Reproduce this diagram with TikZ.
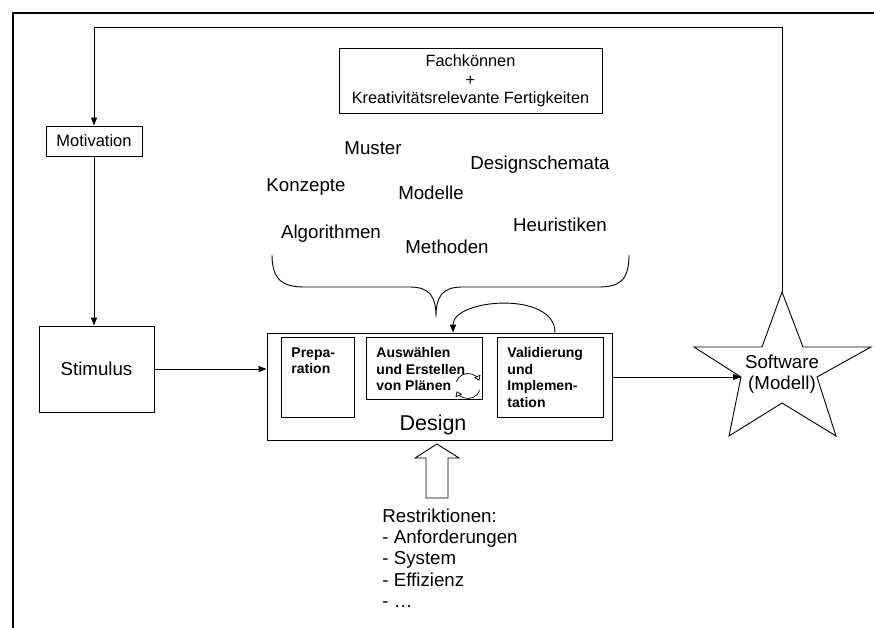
\documentclass[tikz,border=0pt]{standalone}
\usepackage{fontspec}
\setmainfont{Liberation Sans}
\usetikzlibrary{arrows.meta}
\begin{document}
\begin{tikzpicture}[x=1pt,y=-1pt,line width=0.9pt,
  box/.style={draw,rectangle,inner sep=0pt},
  word/.style={inner sep=0pt,anchor=base,font=\fontsize{18.7}{21.3}\selectfont},
  phase/.style={inner sep=0pt,anchor=north west,align=left,font=\fontsize{14}{16.7}\selectfont\bfseries},
  ptr/.style={-{Triangle[length=8pt,width=6pt]}}]
\useasboundingbox (0,0) rectangle (874,628);
% outer frame (top and left edges)
\draw[line width=2.6pt] (13,628) -- (13,13) -- (874,13);

% skills box
\node[box,minimum width=263pt,minimum height=65pt,align=center,
      font=\fontsize{16.3}{18.5}\selectfont] (fach) at (470.5,81)
  {Fachkönnen\\+\\Kreativitätsrelevante Fertigkeiten};

% knowledge items
\node[word] (muster)  at (373,155) {Muster};
\node[word] (schema)  at (540,170) {Designschemata};
\node[word] (konzept) at (306,192) {Konzepte};
\node[word] (modell)  at (431,200) {Modelle};
\node[word] (algo)    at (331,238) {Algorithmen};
\node[word] (methode) at (447,253) {Methoden};
\node[word] (heur)    at (560,231) {Heuristiken};

% brace gathering the items
\draw (272,255) .. controls (272,282) and (285,287) .. (305,287)
  -- (410,287) .. controls (430,287) and (436,297) .. (436,317)
  .. controls (436,297) and (442,287) .. (462,287)
  -- (598,287) .. controls (618,287) and (629,282) .. (629,255);

% left column
\node[box,minimum width=96pt,minimum height=30pt,
      font=\fontsize{16.5}{18}\selectfont] (motiv) at (94,141) {Motivation};
\node[box,minimum width=115pt,minimum height=86pt,
      font=\fontsize{18.7}{21}\selectfont] (stim) at (96.5,369) {Stimulus};

% design block with its three phases
\node[box,minimum width=345pt,minimum height=107pt] (design) at (439.5,386.5) {};
\node[inner sep=0pt,anchor=base,font=\fontsize{21.5}{24}\selectfont] (designlbl)
  at (433,430) {Design};
\node[box,minimum width=73pt,minimum height=80pt] (prep) at (317.5,377) {};
\node[phase] (preptxt) at (291,347) {Prepa-\\ration};
\node[box,minimum width=116pt,minimum height=62pt] (ausw) at (424,368) {};
\node[phase] (auswtxt) at (376,347) {Auswählen\\und Erstellen\\von Plänen};
\node[box,minimum width=106pt,minimum height=80pt] (valid) at (550,377) {};
\node[phase] (validtxt) at (507,347) {Validierung\\und\\Implemen-\\tation};

% cycle symbol
\begin{scope}[line width=0.7pt,-{Triangle[open,length=5pt,width=7pt]}]
  \draw (468,386) ++(160:12.5pt) arc[start angle=160,end angle=25,radius=12.5pt];
  \draw (468,386) ++(-20:12.5pt) arc[start angle=-20,end angle=-155,radius=12.5pt];
\end{scope}

% result star
\coordinate (startop) at (782,292);
\coordinate (starin) at (741,377);
\draw (startop) -- (803,347) -- (871,347) -- (817,377) -- (836,436)
  -- (782,403) -- (729,436) -- (starin) -- (694,347) -- (762,347) -- cycle;
\node[inner sep=0pt,anchor=north,align=center,
      font=\fontsize{18.7}{21}\selectfont] (soft) at (782,354.5) {Software\\(Modell)};

% restrictions
\draw (426,498) -- (426,458) -- (415,458) -- (437,444) -- (459,458)
  -- (448,458) -- (448,498) -- cycle;
\node[inner sep=0pt,anchor=north west,align=left,
      font=\fontsize{18.7}{21.3}\selectfont] (restr) at (382,508.3)
  {Restriktionen:\\- Anforderungen\\- System\\- Effizienz\\- …};

% connectors
\coordinate (looptop) at (782,27);
\draw[ptr] (startop) -- (looptop) -| (motiv.north);
\draw[ptr] (motiv.south) -- (motiv.south |- stim.north);
\draw[ptr] (stim.east) -- (stim.east -| design.west);
\draw[ptr] (design.east |- starin) -- (starin);
\draw[ptr] ([xshift=5pt]valid.north |- design.north)
  .. controls +(0,-42) and +(0,-34) .. ([xshift=29pt]ausw.north |- design.north);
\end{tikzpicture}
\end{document}
